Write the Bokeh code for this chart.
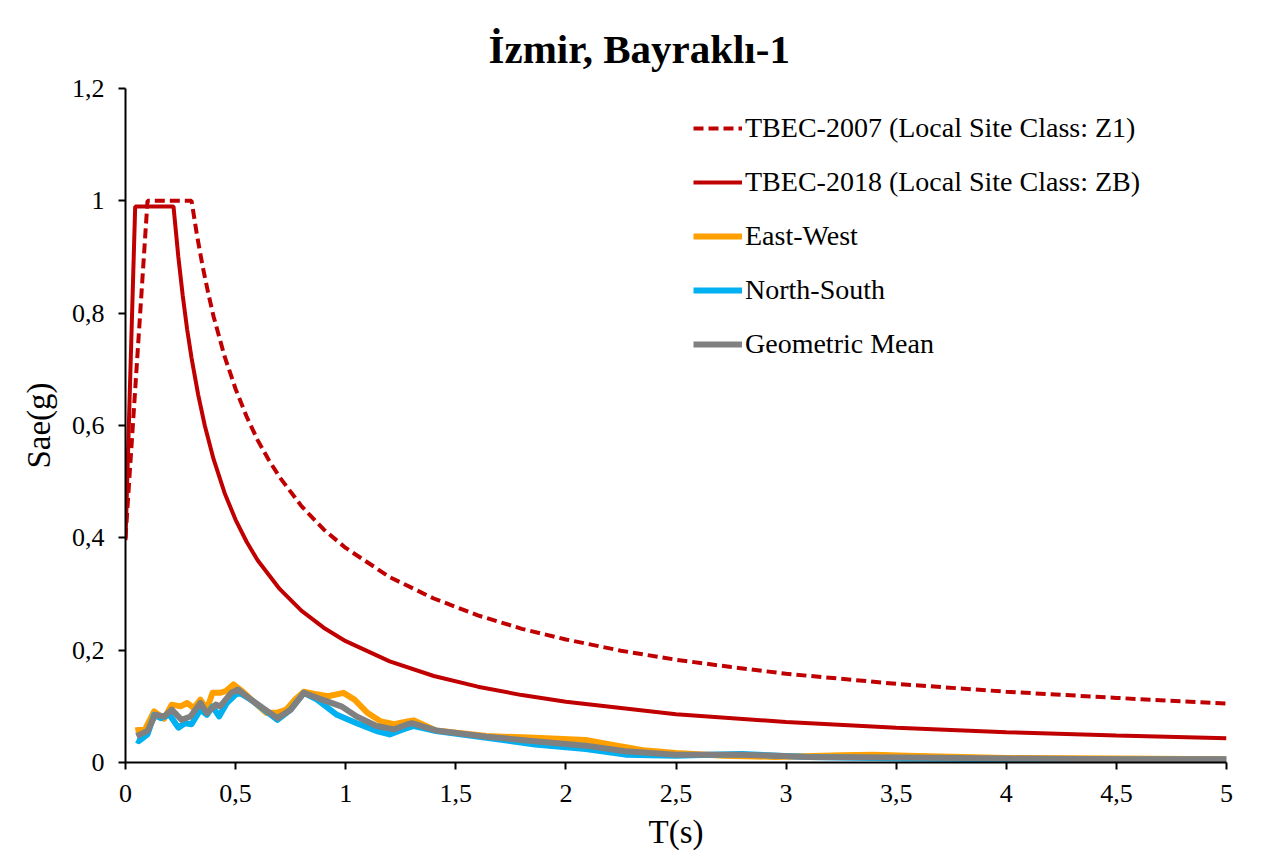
from bokeh.plotting import figure
from bokeh.models import Legend, LegendItem, FixedTicker, Range1d
from bokeh.embed import file_html
from bokeh.resources import INLINE

# ---------------- data ----------------
title_text = "İzmir, Bayraklı-1"

x_ticks = [0, 0.5, 1, 1.5, 2, 2.5, 3, 3.5, 4, 4.5, 5]
x_tick_labels = ["0", "0,5", "1", "1,5", "2", "2,5", "3", "3,5", "4", "4,5", "5"]
y_ticks = [0, 0.2, 0.4, 0.6, 0.8, 1, 1.2]
y_tick_labels = ["0", "0,2", "0,4", "0,6", "0,8", "1", "1,2"]

# TBEC-2007 design spectrum (Z1)
t2007 = [0, 0.1, 0.3, 0.325, 0.35, 0.375, 0.4, 0.45, 0.5, 0.55, 0.6, 0.65, 0.7, 0.8, 0.9,
         1.0, 1.2, 1.4, 1.6, 1.8, 2.0, 2.25, 2.5, 2.75, 3.0, 3.5, 4.0, 4.5, 5.0]
s2007 = [0.40, 1.0, 1.0, 0.938, 0.884, 0.837, 0.794, 0.723, 0.665, 0.616, 0.574, 0.539, 0.508,
         0.456, 0.415, 0.382, 0.330, 0.292, 0.262, 0.238, 0.219, 0.199, 0.183, 0.170, 0.158,
         0.140, 0.126, 0.115, 0.105]

# TBEC-2018 design spectrum (ZB)
t2018 = [0, 0.044, 0.218, 0.24, 0.26, 0.28, 0.3, 0.33, 0.36, 0.4, 0.45, 0.5, 0.55, 0.6, 0.7,
         0.8, 0.9, 1.0, 1.2, 1.4, 1.6, 1.8, 2.0, 2.5, 3.0, 3.5, 4.0, 4.5, 5.0]
s2018 = [0.396, 0.99, 0.99, 0.900, 0.831, 0.771, 0.720, 0.655, 0.600, 0.540, 0.480, 0.432, 0.393,
         0.360, 0.309, 0.270, 0.240, 0.216, 0.180, 0.154, 0.135, 0.120, 0.108, 0.086, 0.072,
         0.062, 0.054, 0.048, 0.043]

# East-West record
t_ew = [0.045, 0.09, 0.13, 0.16, 0.175, 0.21, 0.25, 0.28, 0.31, 0.34, 0.37, 0.395, 0.43, 0.455,
        0.49, 0.53, 0.58, 0.64, 0.69, 0.73, 0.77, 0.81, 0.86, 0.92, 0.99, 1.04, 1.10, 1.16, 1.22,
        1.28, 1.31, 1.41, 1.64, 1.86, 2.09, 2.20, 2.35, 2.50, 2.72, 2.95, 3.25, 3.40, 3.55, 4.0,
        4.5, 5.0]
s_ew = [0.057, 0.060, 0.091, 0.082, 0.078, 0.103, 0.100, 0.106, 0.097, 0.112, 0.095, 0.124, 0.124,
        0.127, 0.139, 0.127, 0.109, 0.088, 0.089, 0.094, 0.112, 0.126, 0.122, 0.118, 0.124, 0.112,
        0.088, 0.073, 0.068, 0.073, 0.075, 0.057, 0.047, 0.044, 0.040, 0.032, 0.022, 0.017, 0.012,
        0.010, 0.013, 0.014, 0.012, 0.008, 0.007, 0.006]

# North-South record
t_ns = [0.05, 0.06, 0.10, 0.13, 0.16, 0.20, 0.24, 0.27, 0.30, 0.34, 0.37, 0.395, 0.425, 0.46,
        0.50, 0.52, 0.58, 0.69, 0.75, 0.81, 0.87, 0.96, 1.05, 1.14, 1.20, 1.26, 1.31, 1.41, 1.64,
        1.86, 2.09, 2.27, 2.50, 2.65, 2.80, 3.10, 3.54, 4.0, 4.5, 5.0]
s_ns = [0.040, 0.038, 0.050, 0.085, 0.079, 0.085, 0.062, 0.070, 0.068, 0.094, 0.085, 0.100, 0.082,
        0.106, 0.121, 0.124, 0.109, 0.076, 0.094, 0.124, 0.112, 0.085, 0.070, 0.056, 0.050, 0.059,
        0.065, 0.056, 0.044, 0.032, 0.024, 0.014, 0.012, 0.014, 0.015, 0.010, 0.007, 0.006, 0.005,
        0.005]

# Geometric mean
t_gm = [0.05, 0.10, 0.135, 0.175, 0.21, 0.255, 0.295, 0.34, 0.37, 0.41, 0.43, 0.48, 0.51, 0.58,
        0.69, 0.75, 0.81, 0.87, 0.98, 1.05, 1.14, 1.22, 1.28, 1.30, 1.41, 1.64, 1.86, 2.09, 2.27,
        2.50, 2.80, 3.10, 3.54, 4.0, 4.5, 5.0]
s_gm = [0.047, 0.056, 0.085, 0.082, 0.094, 0.076, 0.082, 0.106, 0.088, 0.103, 0.100, 0.124, 0.130,
        0.109, 0.079, 0.094, 0.124, 0.115, 0.100, 0.082, 0.065, 0.059, 0.068, 0.070, 0.057, 0.046,
        0.038, 0.030, 0.020, 0.014, 0.014, 0.010, 0.009, 0.007, 0.006, 0.006]

series_labels = ["TBEC-2007 (Local Site Class: Z1)", "TBEC-2018 (Local Site Class: ZB)",
                 "East-West", "North-South", "Geometric Mean"]

# ---------------- figure ----------------
FONT = "Liberation Serif"
RED = "#C00000"

p = figure(width=1280, height=852, output_backend="svg", toolbar_location=None,
           x_range=Range1d(0, 5), y_range=Range1d(0, 1.2),
           min_border_left=125, min_border_right=54, min_border_top=88, min_border_bottom=89,
           background_fill_color="white", border_fill_color="white")
p.outline_line_color = None
p.grid.visible = False

p.title.text = title_text
p.title.align = "left"
p.title.offset = 363
p.title.standoff = 33
p.title.text_font = FONT
p.title.text_font_size = "41px"
p.title.text_font_style = "bold"
p.title.text_color = "black"

for ax in (p.xaxis[0], p.yaxis[0]):
    ax.axis_line_color = "black"
    ax.axis_line_width = 2
    ax.major_tick_line_color = "black"
    ax.major_tick_line_width = 2
    ax.major_tick_out = 7
    ax.major_tick_in = 0
    ax.minor_tick_line_color = None
    ax.major_label_text_font = FONT
    ax.major_label_text_font_size = "26px"
    ax.major_label_text_color = "black"
    ax.axis_label_text_font = FONT
    ax.axis_label_text_font_size = "33px"
    ax.axis_label_text_font_style = "normal"
    ax.axis_label_text_color = "black"

p.xaxis[0].ticker = FixedTicker(ticks=x_ticks)
p.xaxis[0].major_label_overrides = dict(zip(x_ticks, x_tick_labels))
p.xaxis[0].axis_label = "T(s)"
p.xaxis[0].major_label_standoff = 15
p.xaxis[0].axis_label_standoff = 9

p.yaxis[0].ticker = FixedTicker(ticks=y_ticks)
p.yaxis[0].major_label_overrides = dict(zip(y_ticks, y_tick_labels))
p.yaxis[0].axis_label = "Sae(g)"
p.yaxis[0].major_label_standoff = 14
p.yaxis[0].axis_label_standoff = 12

r1 = p.line(t2007, s2007, line_color=RED, line_width=4, line_dash="10 5")
r2 = p.line(t2018, s2018, line_color=RED, line_width=4)
r3 = p.line(t_ew, s_ew, line_color="#FFA000", line_width=6, line_join="round")
r4 = p.line(t_ns, s_ns, line_color="#00B0F0", line_width=6, line_join="round")
r5 = p.line(t_gm, s_gm, line_color="#808080", line_width=6, line_join="round")

legend = Legend(items=[LegendItem(label=lab, renderers=[r]) for lab, r in
                       zip(series_labels, [r1, r2, r3, r4, r5])],
                location=(568, 402), border_line_color=None, background_fill_alpha=0,
                label_text_font=FONT, label_text_font_size="28px", label_text_color="black",
                glyph_width=49, glyph_height=30, label_height=30, spacing=22,
                padding=0, margin=0, label_standoff=3)
p.add_layout(legend)

open("out.html", "w").write(file_html(p, INLINE))
